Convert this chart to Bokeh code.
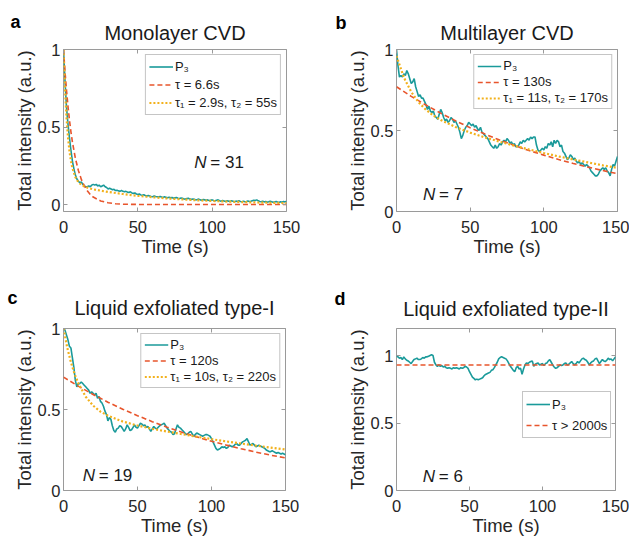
from bokeh.plotting import figure
from bokeh.layouts import column, row
from bokeh.models import (Range1d, FixedTicker, NumeralTickFormatter, LinearAxis,
                          CustomJSTickFormatter, Legend, LegendItem, Label)
from bokeh.embed import file_html
from bokeh.resources import INLINE

FONT = "Liberation Sans"
TEAL = "#1a9a9a"
RED = "#e8552c"
YELLOW = "#f2b11c"
GRAY = "#9a9a9a"

# ---------------- data ----------------
frames = list(range(151))  # time base, 1 s per frame

p3_a = [1.00, 0.80, 0.63, 0.52, 0.43, 0.35, 0.28, 0.23, 0.19, 0.165, 0.15, 0.14, 0.145, 0.13, 0.12, 0.115,
        0.115, 0.12, 0.115, 0.125, 0.13, 0.125, 0.13, 0.12, 0.125, 0.115, 0.12, 0.125, 0.115, 0.11, 0.10,
        0.105, 0.10, 0.095, 0.098, 0.09, 0.092, 0.088, 0.085, 0.09, 0.085, 0.082, 0.085, 0.08, 0.078, 0.082,
        0.075, 0.072, 0.075, 0.068, 0.065, 0.068, 0.062, 0.06, 0.063, 0.058, 0.055, 0.058, 0.055, 0.052, 0.05,
        0.055, 0.052, 0.05, 0.048, 0.052, 0.048, 0.045, 0.05, 0.046, 0.044, 0.047, 0.043, 0.045, 0.04, 0.043,
        0.045, 0.04, 0.038, 0.042, 0.04, 0.036, 0.035, 0.038, 0.04, 0.035, 0.033, 0.036, 0.034, 0.03, 0.032,
        0.035, 0.03, 0.028, 0.032, 0.03, 0.027, 0.03, 0.025, 0.028, 0.03, 0.026, 0.024, 0.028, 0.03, 0.025,
        0.022, 0.026, 0.023, 0.02, 0.025, 0.022, 0.02, 0.024, 0.021, 0.018, 0.022, 0.02, 0.024, 0.02, 0.018,
        0.022, 0.018, 0.02, 0.023, 0.019, 0.021, 0.025, 0.028, 0.026, 0.03, 0.024, 0.02, 0.018, 0.022, 0.017,
        0.02, 0.015, 0.018, 0.022, 0.018, 0.014, 0.017, 0.02, 0.016, 0.013, 0.018, 0.015, 0.02, 0.017, 0.022]

p3_b = [1.00, 0.90, 0.83, 0.84, 0.83, 0.85, 0.84, 0.87, 0.85, 0.82, 0.79, 0.80, 0.82, 0.77, 0.74, 0.71,
        0.72, 0.70, 0.70, 0.68, 0.66, 0.63, 0.65, 0.62, 0.61, 0.62, 0.59, 0.58, 0.57, 0.60, 0.63, 0.61, 0.58,
        0.56, 0.57, 0.55, 0.56, 0.58, 0.57, 0.55, 0.56, 0.54, 0.52, 0.49, 0.45, 0.47, 0.50, 0.52, 0.53, 0.55,
        0.54, 0.53, 0.54, 0.52, 0.53, 0.51, 0.50, 0.52, 0.49, 0.48, 0.47, 0.46, 0.45, 0.43, 0.41, 0.40, 0.39,
        0.41, 0.39, 0.40, 0.42, 0.41, 0.43, 0.44, 0.43, 0.45, 0.44, 0.42, 0.43, 0.41, 0.42, 0.40, 0.40, 0.41,
        0.43, 0.42, 0.44, 0.43, 0.44, 0.45, 0.44, 0.46, 0.45, 0.46, 0.46, 0.41, 0.38, 0.37, 0.38, 0.39, 0.38,
        0.40, 0.39, 0.42, 0.41, 0.43, 0.40, 0.44, 0.42, 0.44, 0.43, 0.40, 0.41, 0.37, 0.36, 0.34, 0.32, 0.33,
        0.35, 0.34, 0.32, 0.33, 0.31, 0.30, 0.31, 0.29, 0.30, 0.29, 0.28, 0.29, 0.28, 0.27, 0.25, 0.24, 0.23,
        0.22, 0.22, 0.23, 0.25, 0.26, 0.27, 0.26, 0.27, 0.25, 0.24, 0.22, 0.26, 0.29, 0.28, 0.31, 0.34]

p3_c = [1.00, 0.99, 0.96, 0.93, 0.89, 0.88, 0.82, 0.76, 0.68, 0.64, 0.66, 0.66, 0.67, 0.66, 0.65, 0.64,
        0.63, 0.62, 0.60, 0.61, 0.60, 0.59, 0.60, 0.57, 0.58, 0.55, 0.54, 0.52, 0.49, 0.47, 0.43, 0.45, 0.44,
        0.40, 0.37, 0.36, 0.38, 0.385, 0.40, 0.395, 0.38, 0.365, 0.38, 0.405, 0.39, 0.37, 0.375, 0.39, 0.405,
        0.39, 0.385, 0.40, 0.415, 0.41, 0.40, 0.405, 0.39, 0.395, 0.38, 0.365, 0.38, 0.395, 0.385, 0.38, 0.39,
        0.40, 0.405, 0.41, 0.415, 0.40, 0.385, 0.375, 0.365, 0.36, 0.345, 0.35, 0.38, 0.405, 0.39, 0.385, 0.375,
        0.365, 0.355, 0.345, 0.35, 0.36, 0.365, 0.35, 0.335, 0.345, 0.355, 0.35, 0.345, 0.34, 0.335, 0.34,
        0.345, 0.345, 0.34, 0.335, 0.32, 0.30, 0.28, 0.26, 0.25, 0.255, 0.26, 0.27, 0.265, 0.27, 0.26, 0.265,
        0.28, 0.275, 0.27, 0.275, 0.285, 0.29, 0.28, 0.28, 0.29, 0.30, 0.305, 0.31, 0.32, 0.30, 0.28, 0.285,
        0.29, 0.28, 0.27, 0.275, 0.28, 0.275, 0.27, 0.265, 0.26, 0.25, 0.245, 0.24, 0.24, 0.245, 0.24, 0.235,
        0.23, 0.235, 0.23, 0.225, 0.23, 0.225, 0.22]

p3_d = [1.00, 0.99, 0.98, 0.985, 0.97, 0.99, 0.975, 0.965, 0.96, 0.95, 0.94, 0.955, 0.97, 0.975, 0.98, 0.97,
        0.97, 0.975, 0.985, 0.98, 0.99, 0.99, 0.995, 1.0, 1.005, 1.0, 0.95, 0.93, 0.92, 0.93, 0.92, 0.925,
        0.915, 0.92, 0.91, 0.905, 0.91, 0.905, 0.90, 0.91, 0.905, 0.91, 0.905, 0.90, 0.91, 0.905, 0.91, 0.92,
        0.915, 0.905, 0.88, 0.86, 0.84, 0.83, 0.82, 0.825, 0.82, 0.825, 0.83, 0.835, 0.85, 0.86, 0.865, 0.87,
        0.875, 0.89, 0.895, 0.91, 0.93, 0.95, 0.975, 0.985, 0.99, 0.985, 0.98, 0.975, 0.96, 0.94, 0.92, 0.905,
        0.89, 0.88, 0.91, 0.92, 0.90, 0.905, 0.86, 0.90, 0.93, 0.945, 0.94, 0.95, 0.955, 0.96, 0.92, 0.935,
        0.94, 0.945, 0.93, 0.935, 0.94, 0.925, 0.94, 0.945, 0.96, 0.97, 0.95, 0.93, 0.915, 0.905, 0.91, 0.92,
        0.93, 0.925, 0.93, 0.94, 0.945, 0.93, 0.935, 0.945, 0.955, 0.94, 0.93, 0.94, 0.955, 0.945, 0.96, 0.975,
        0.98, 0.97, 0.965, 0.95, 0.93, 0.945, 0.955, 0.96, 0.975, 0.98, 0.96, 0.94, 0.955, 0.97, 0.96, 0.955,
        0.965, 0.98, 0.97, 0.975, 0.96, 0.975, 0.99]

# exponential fits
fit1_t_a = [0, 1, 2, 3, 4, 5, 6, 8, 10, 12, 14, 16, 18, 20, 25, 30, 35, 40, 50, 150]
fit1_a = [1.0, 0.859, 0.739, 0.635, 0.546, 0.469, 0.403, 0.298, 0.220, 0.162, 0.120, 0.089, 0.065, 0.048,
          0.023, 0.011, 0.005, 0.002, 0.0005, 0.0]
fit2_t_a = [0, 1, 2, 3, 4, 5, 6, 8, 10, 12, 15, 20, 30, 40, 50, 60, 70, 80, 90, 100, 110, 120, 130, 140, 150]
fit2_a = [1.0, 0.746, 0.566, 0.437, 0.346, 0.280, 0.234, 0.176, 0.144, 0.127, 0.112, 0.098, 0.081, 0.068,
          0.056, 0.047, 0.039, 0.033, 0.027, 0.023, 0.019, 0.016, 0.013, 0.011, 0.009]

fit_t_b = [0, 10, 20, 30, 40, 50, 60, 70, 80, 90, 100, 110, 120, 130, 140, 150]
fit1_b = [0.77, 0.711, 0.657, 0.607, 0.560, 0.517, 0.478, 0.441, 0.408, 0.376, 0.348, 0.321, 0.296, 0.274,
          0.253, 0.233]
fit2_t_b = [0, 5, 10, 15, 20, 25, 30, 40, 50, 60, 70, 80, 90, 100, 110, 120, 130, 140, 150]
fit2_b = [0.96, 0.828, 0.738, 0.674, 0.628, 0.593, 0.565, 0.522, 0.487, 0.457, 0.431, 0.406, 0.383, 0.361,
          0.340, 0.321, 0.303, 0.285, 0.269]

fit_t_c = [0, 10, 20, 30, 40, 50, 60, 70, 80, 90, 100, 110, 120, 130, 140, 150]
fit1_c = [0.70, 0.644, 0.593, 0.545, 0.502, 0.462, 0.425, 0.391, 0.359, 0.331, 0.304, 0.280, 0.258, 0.237,
          0.218, 0.201]
fit2_t_c = [0, 2.5, 5, 7.5, 10, 15, 20, 25, 30, 40, 50, 60, 70, 80, 90, 100, 110, 120, 130, 140, 150]
fit2_c = [1.0, 0.883, 0.792, 0.719, 0.662, 0.579, 0.524, 0.487, 0.462, 0.426, 0.401, 0.381, 0.364, 0.348,
          0.332, 0.317, 0.303, 0.290, 0.277, 0.265, 0.253]

fit_t_d = [0, 150]
fit1_d = [0.93, 0.93]

x_ticks = [0, 50, 100, 150]
y_ticks = [0, 0.5, 1]


def make_panel(letter, title, p3, fits, n_text, n_xy, y_end, y_start, size, borders, legend_loc,
               legend_rows, title_standoff, letter_xy):
    w, h = size
    bl, br, bt, bb = borders
    p = figure(width=w, height=h, min_border_left=bl, min_border_right=br,
               min_border_top=bt, min_border_bottom=bb,
               x_range=Range1d(0, 150), y_range=Range1d(y_start, y_end),
               output_backend="svg", toolbar_location=None, title=title)
    p.title.align = "center"
    p.title.text_font = FONT
    p.title.text_font_size = "20px"
    p.title.text_font_style = "normal"
    p.title.text_color = "#1a1a1a"
    p.title.standoff = title_standoff
    p.xgrid.visible = False
    p.ygrid.visible = False
    p.outline_line_color = GRAY
    p.outline_line_alpha = 1
    p.outline_line_width = 1

    p.xaxis.ticker = FixedTicker(ticks=x_ticks)
    p.yaxis.ticker = FixedTicker(ticks=y_ticks)
    p.yaxis.formatter = NumeralTickFormatter(format="0.[0]")
    p.xaxis.axis_label = "Time (s)"
    p.yaxis.axis_label = "Total intensity (a.u.)"
    for ax in (p.xaxis[0], p.yaxis[0]):
        ax.axis_line_color = None
        ax.major_tick_in = 4
        ax.major_tick_out = 0
        ax.major_tick_line_color = GRAY
        ax.minor_tick_line_color = None
        ax.major_label_text_font = FONT
        ax.major_label_text_font_size = "16.5px"
        ax.major_label_text_color = "#262626"
        ax.axis_label_text_font = FONT
        ax.axis_label_text_font_size = "18.5px"
        ax.axis_label_text_font_style = "normal"
        ax.axis_label_text_color = "#262626"
        ax.axis_label_standoff = 0
    p.xaxis.major_label_standoff = 9
    p.yaxis.major_label_standoff = 3
    # mirrored ticks on top and right
    for place, tk in (("above", x_ticks), ("right", y_ticks)):
        ax2 = LinearAxis(ticker=FixedTicker(ticks=tk), formatter=CustomJSTickFormatter(code="return ''"),
                         axis_line_color=None, major_tick_in=4, major_tick_out=0,
                         major_tick_line_color=GRAY, minor_tick_line_color=None,
                         major_label_standoff=0, major_label_text_font_size="1px")
        p.add_layout(ax2, place)

    r_p3 = p.line(frames, p3, line_color=TEAL, line_width=1.6)
    items = [LegendItem(label="P\u2083", renderers=[r_p3])]
    for (ft, fv, lab, kind) in fits:
        if kind == "single":
            r = p.line(ft, fv, line_color=RED, line_width=1.6, line_dash="5 3")
        else:
            r = p.line(ft, fv, line_color=YELLOW, line_width=2.2, line_dash="2 2")
        items.append(LegendItem(label=lab, renderers=[r]))

    lh, sp = legend_rows
    leg = Legend(items=items, location=legend_loc, margin=5, padding=3, spacing=sp,
                 label_height=lh, glyph_height=lh, glyph_width=24, label_standoff=2,
                 label_text_font=FONT, label_text_font_size="13px", label_text_color="#1a1a1a",
                 border_line_color="#8c8c8c", border_line_width=1, background_fill_alpha=1)
    p.add_layout(leg)

    nx, ny = n_xy
    p.add_layout(Label(x=nx, y=ny, text="N", text_font=FONT, text_font_size="17px",
                       text_font_style="italic", text_baseline="middle", text_color="#1a1a1a"))
    p.add_layout(Label(x=nx, y=ny, x_offset=16, text="= " + n_text, text_font=FONT,
                       text_font_size="17px", text_baseline="middle", text_color="#1a1a1a"))
    # panel letter in the left side panel so that it is not clipped to the axes box
    fh = h - bt - bb
    lx, ldy = letter_xy
    p.add_layout(Label(x=lx, y=fh + ldy, x_units="screen", y_units="screen", text=letter,
                       text_font=FONT, text_font_size="18px", text_font_style="bold",
                       text_baseline="bottom", text_color="#000000"), "left")
    return p


pa = make_panel("a", "Monolayer CVD", p3_a,
                [(fit1_t_a, fit1_a, "\u03c4 = 6.6s", "single"),
                 (fit2_t_a, fit2_a, "\u03c4\u2081 = 2.9s, \u03c4\u2082 = 55s", "double")],
                "31", (88, 0.27), 1.0, -0.045, (332, 260), (61, 46, 45, 49), "top_right",
                (17, 1), 12, (10, 14))
pb = make_panel("b", "Multilayer CVD", p3_b,
                [(fit_t_b, fit1_b, "\u03c4 = 130s", "single"),
                 (fit2_t_b, fit2_b, "\u03c4\u2081 = 11s, \u03c4\u2082 = 170s", "double")],
                "7", (18, 0.105), 1.0, 0.0, (297, 260), (60, 12, 49, 49), "top_right",
                (14, 1), 12, (3, 17))
pc = make_panel("c", "Liquid exfoliated type-I", p3_c,
                [(fit_t_c, fit1_c, "\u03c4 = 120s", "single"),
                 (fit2_t_c, fit2_c, "\u03c4\u2081 = 10s, \u03c4\u2082 = 220s", "double")],
                "19", (13, 0.09), 1.0, 0.0, (332, 279), (61, 47, 67, 49), "top_right",
                (15, 1), 19, (7, 20))
pd = make_panel("d", "Liquid exfoliated type-II", p3_d,
                [(fit_t_d, fit1_d, "\u03c4 > 2000s", "single")],
                "6", (18, 0.104), 1.2, 0.0, (297, 279), (60, 14, 68, 49), (126, 52),
                (18, 3), 17, (2, 20))

layout = column(row(pa, pb), row(pc, pd))
open("out.html", "w").write(file_html(layout, INLINE))
